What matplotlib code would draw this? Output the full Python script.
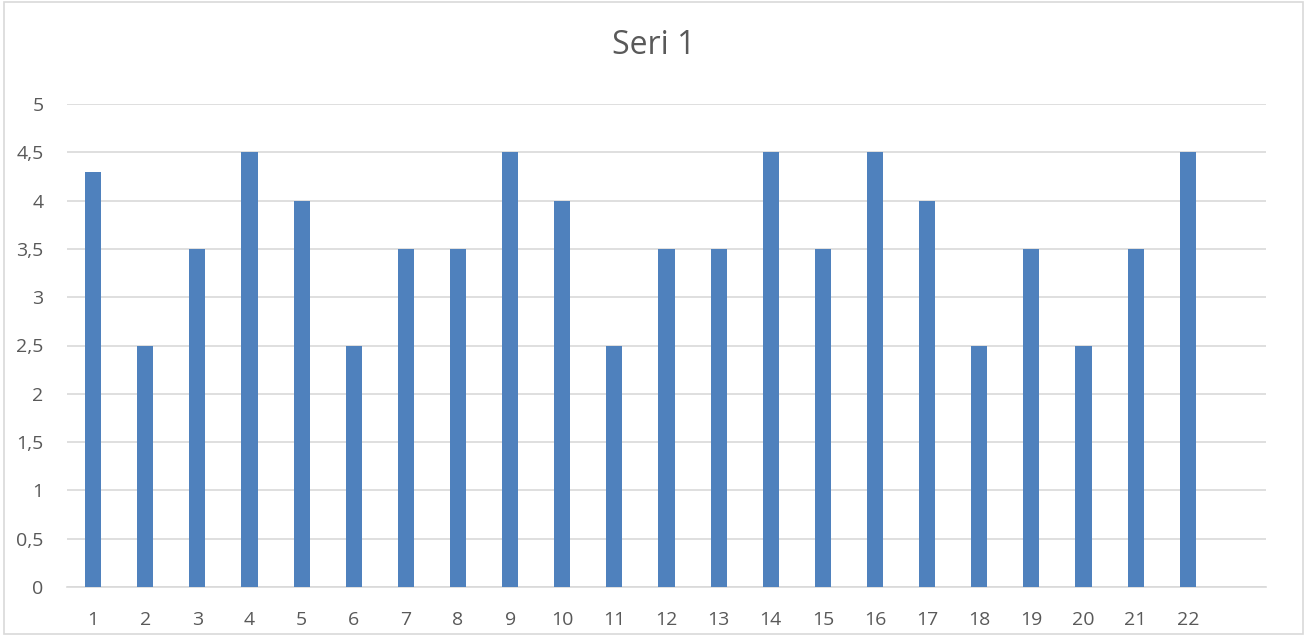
import numpy as np
import matplotlib.pyplot as plt
from matplotlib.patches import Rectangle

# data
categories = [str(i) for i in range(1, 23)]
values = [4.3, 2.5, 3.5, 4.5, 4, 2.5, 3.5, 3.5, 4.5, 4, 2.5,
          3.5, 3.5, 4.5, 3.5, 4.5, 4, 2.5, 3.5, 2.5, 3.5, 4.5]
y_ticks = [0, 0.5, 1, 1.5, 2, 2.5, 3, 3.5, 4, 4.5, 5]
y_labels = [f"{t:g}".replace(".", ",") for t in y_ticks]

plt.rcParams['font.family'] = ['Open Sans', 'DejaVu Sans']
text_col = '#595959'

fig = plt.figure(figsize=(13.14, 6.36), dpi=100)
W, H = 1314, 636
ax = fig.add_axes([67 / W, (H - 587) / H, (1266 - 67) / W, (587 - 104) / H])

x = np.arange(len(categories))
ax.bar(x, values, width=0.31, color='#4F81BD', zorder=3)

ax.set_xlim(-0.5, 22.5)
ax.set_ylim(0, 5)
ax.set_yticks(y_ticks)
ax.set_yticklabels(y_labels)
ax.set_xticks(x)
ax.set_xticklabels(categories)
ax.grid(axis='y', color='#D9D9D9', linewidth=1.2, zorder=0)
for s in ['top', 'right', 'left']:
    ax.spines[s].set_visible(False)
ax.spines['bottom'].set_color('#D9D9D9')
ax.spines['bottom'].set_linewidth(1.2)
ax.tick_params(length=0, labelsize=14, labelcolor=text_col)
ax.tick_params(axis='x', pad=17)
ax.tick_params(axis='y', pad=17)

fig.text(654 / W, 1 - 45 / H, 'Seri 1', ha='center', va='center', fontsize=23, color=text_col)

# chart border
fig.patches.append(Rectangle((4 / W, 2 / H), 1299 / W, 632 / H, transform=fig.transFigure,
                             fill=False, edgecolor='#D9D9D9', linewidth=1.2))

plt.savefig('out.png', dpi=100)
